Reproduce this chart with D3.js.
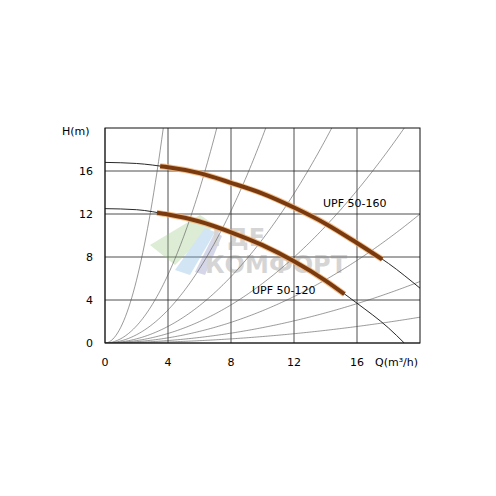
<!DOCTYPE html>
<html>
<head>
<meta charset="utf-8">
<script src="https://d3js.org/d3.v7.min.js"></script>
<style>body{margin:0;background:#fff}text{font-family:"DejaVu Sans",sans-serif}</style>
</head>
<body>
<svg id="c" width="496" height="496"></svg>
<script>
// pump curves, H(m) against Q(m3/h)
var qs = [0, 2, 4, 6, 8, 10, 12, 14, 16, 18, 20]
var hUpper = [16.8, 16.7, 16.35, 15.8, 14.9, 13.9, 12.6, 11.1, 9.3, 7.4, 5.1]
var qsLower = [0, 2, 4, 6, 8, 10, 12, 14, 16, 18, 19]
var hLower = [12.5, 12.4, 11.95, 11.3, 10.3, 9.1, 7.6, 5.8, 3.7, 1.4, 0]
// working ranges (thick) per model
var models = ["UPF 50-160", "UPF 50-120"]
var rangeQ = [[3.5, 17.6], [3.3, 15.2]]
// system resistance curves H = k*Q^2
var systemK = [1.46, 0.397, 0.192, 0.0965, 0.0554, 0.030, 0.0143, 0.006]
var ticks = [0, 4, 8, 12, 16]

var svg = d3.select("#c")
var x = d3.scaleLinear().domain([0, 20]).range([105, 420])
var y = d3.scaleLinear().domain([0, 20]).range([343, 128])
var g = svg.append("g")

// grid
ticks.forEach(function (t) {
  g.append("line").attr("x1", x(t)).attr("x2", x(t)).attr("y1", y(0)).attr("y2", y(20)).attr("stroke", "#222").attr("stroke-width", 0.8)
  g.append("line").attr("x1", x(0)).attr("x2", x(20)).attr("y1", y(t)).attr("y2", y(t)).attr("stroke", "#222").attr("stroke-width", 0.8)
})

// watermark
var wm = svg.append("g").attr("opacity", 0.35)
wm.append("path").attr("d", "M150,245 L200,215 L215,225 L175,265 Z").attr("fill", "#9ec98a")
wm.append("path").attr("d", "M175,270 L205,228 L215,232 L190,275 Z").attr("fill", "#7fb7e0")
wm.append("path").attr("d", "M195,272 L215,232 L222,236 L205,275 Z").attr("fill", "#8a8fc0")
wm.append("text").attr("x", 212).attr("y", 246).attr("font-size", 24).attr("font-weight", "bold").attr("fill", "#8a8a8a").text("ГДЕ")
wm.append("text").attr("x", 205).attr("y", 273).attr("font-size", 24).attr("font-weight", "bold").attr("fill", "#8a8a8a").text("КОМФОРТ")

var clip = svg.append("clipPath").attr("id", "pc").append("rect")
  .attr("x", x(0)).attr("y", y(20)).attr("width", x(20) - x(0)).attr("height", y(0) - y(20))
var pg = svg.append("g").attr("clip-path", "url(#pc)")

systemK.forEach(function (k) {
  var pts = d3.range(0, 20.01, 0.1).map(function (q) { return [q, k * q * q] })
  pg.append("path").attr("d", d3.line().x(function (d) { return x(d[0]) }).y(function (d) { return y(d[1]) })(pts))
    .attr("fill", "none").attr("stroke", "#555").attr("stroke-width", 0.6)
})

var line = d3.line().x(function (d) { return x(d[0]) }).y(function (d) { return y(d[1]) }).curve(d3.curveMonotoneX)
var curves = [d3.zip(qs, hUpper), d3.zip(qsLower, hLower)]
curves.forEach(function (c, i) {
  pg.append("path").attr("d", line(c)).attr("fill", "none").attr("stroke", "#111").attr("stroke-width", 0.9)
  var seg = c.filter(function (d) { return d[0] >= rangeQ[i][0] && d[0] <= rangeQ[i][1] })
  var interp = function (q) {
    var j = d3.bisectLeft(c.map(function (d) { return d[0] }), q)
    var a = c[j - 1], b = c[j]
    return [q, a[1] + (b[1] - a[1]) * (q - a[0]) / (b[0] - a[0])]
  }
  seg = [interp(rangeQ[i][0])].concat(seg, [interp(rangeQ[i][1])])
  pg.append("path").attr("d", line(seg)).attr("fill", "none").attr("stroke", "#f0b070").attr("stroke-width", 6).attr("opacity", 0.8)
  pg.append("path").attr("d", line(seg)).attr("fill", "none").attr("stroke", "#7a3a10").attr("stroke-width", 4)
})

svg.append("text").attr("x", 323).attr("y", 207).attr("font-size", 11).text(models[0])
svg.append("text").attr("x", 252).attr("y", 294).attr("font-size", 11).text(models[1])

// frame
svg.append("rect").attr("x", x(0)).attr("y", y(20)).attr("width", x(20) - x(0)).attr("height", y(0) - y(20))
  .attr("fill", "none").attr("stroke", "#111").attr("stroke-width", 1)

ticks.forEach(function (t) {
  svg.append("text").attr("x", x(t)).attr("y", 366).attr("text-anchor", "middle").attr("font-size", 11).text(t)
  svg.append("text").attr("x", 93).attr("y", y(t) + 4).attr("text-anchor", "end").attr("font-size", 11).text(t)
})
svg.append("text").attr("x", 62).attr("y", 135).attr("font-size", 11).text("H(m)")
svg.append("text").attr("x", 375).attr("y", 366).attr("font-size", 11).text("Q(m³/h)")
</script>
</body>
</html>
